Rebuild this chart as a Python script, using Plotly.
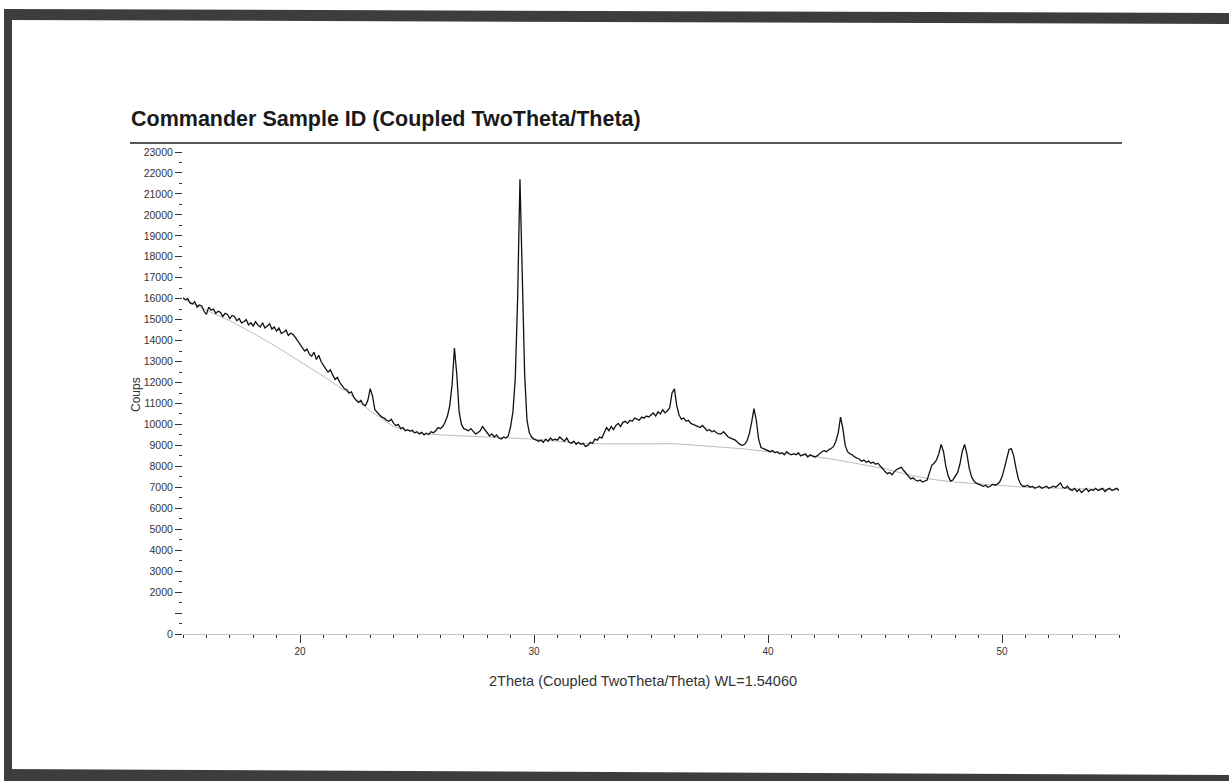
import plotly.graph_objects as go

# ---------------- data ----------------
two_theta_start = 15.0
two_theta_step = 0.1

counts = [
    16050, 15950, 16000, 15800, 15750, 15850, 15600, 15700, 15650, 15400,  # 15
    15250, 15600, 15450, 15500, 15300, 15400, 15350, 15150, 15300, 15250,  # 16
    15050, 15200, 15150, 14950, 15050, 14850, 14900, 15000, 14750, 14850,  # 17
    14700, 14900, 14750, 14650, 14850, 14600, 14700, 14800, 14550, 14650,  # 18
    14450, 14600, 14350, 14400, 14500, 14250, 14350, 14300, 14150, 14000,  # 19
    13800, 13650, 13500, 13600, 13350, 13250, 13450, 13100, 13300, 13000,  # 20
    12800, 12650, 12500, 12600, 12350, 12150, 12250, 12000, 11850, 11700,  # 21
    11650, 11500, 11550, 11300, 11150, 11050, 11150, 10950, 10900, 11150,  # 22
    11700, 11350, 10700, 10550, 10450, 10350, 10300, 10200, 10150, 10250,  # 23
    10050, 9950, 10000, 9800, 9850, 9700, 9750, 9680, 9720, 9600,          # 24
    9650, 9550, 9620, 9500, 9580, 9520, 9650, 9600, 9700, 9850,            # 25
    9800, 9900, 10100, 10400, 10900, 11900, 13650, 12400, 10600, 10000,    # 26
    9800, 9750, 9700, 9800, 9650, 9550, 9600, 9700, 9900, 9750,            # 27
    9600, 9450, 9550, 9400, 9500, 9350, 9300, 9400, 9350, 9450,            # 28
    9900, 10600, 12200, 16000, 21700, 17000, 12400, 10200, 9600, 9400,     # 29
    9300, 9250, 9200, 9250, 9150, 9300, 9200, 9350, 9250, 9300,            # 30
    9250, 9400, 9300, 9200, 9350, 9150, 9100, 9200, 9050, 9150,            # 31
    9050, 9100, 8950, 9000, 9150, 9100, 9300, 9250, 9400, 9350,            # 32
    9600, 9850, 9700, 9900, 9750, 9950, 10050, 9900, 10100, 10150,         # 33
    10050, 10200, 10150, 10300, 10250, 10200, 10350, 10300, 10400, 10350,  # 34
    10450, 10550, 10400, 10600, 10500, 10700, 10550, 10650, 10800, 11500,  # 35
    11700, 10900, 10450, 10250, 10300, 10150, 10200, 10050, 10000, 9950,   # 36
    9900, 9850, 9950, 9800, 9700, 9750, 9650, 9700, 9600, 9550,            # 37
    9550, 9650, 9500, 9400, 9350, 9300, 9250, 9150, 9050, 9000,            # 38
    9050, 9200, 9550, 10100, 10750, 10200, 9300, 8900, 8850, 8800,         # 39
    8750, 8700, 8750, 8650, 8700, 8600, 8650, 8550, 8700, 8600,            # 40
    8550, 8600, 8550, 8650, 8500, 8550, 8600, 8450, 8550, 8500,            # 41
    8450, 8500, 8600, 8700, 8750, 8700, 8800, 8850, 8950, 9200,            # 42
    9600, 10350, 9800, 9000, 8700, 8600, 8550, 8450, 8400, 8350,           # 43
    8250, 8300, 8200, 8250, 8150, 8200, 8100, 8150, 8000, 7900,            # 44
    7750, 7650, 7700, 7600, 7750, 7850, 7900, 7950, 7800, 7650,            # 45
    7500, 7400, 7450, 7350, 7300, 7350, 7250, 7300, 7350, 7700,            # 46
    8050, 8150, 8300, 8600, 9050, 8700, 8000, 7550, 7300, 7350,            # 47
    7500, 7700, 8100, 8700, 9050, 8600, 7900, 7500, 7300, 7200,            # 48
    7150, 7100, 7050, 7100, 7000, 7050, 7150, 7100, 7150, 7250,            # 49
    7500, 7900, 8400, 8800, 8850, 8500, 7900, 7400, 7150, 7050,            # 50
    7050, 7100, 7000, 7050, 6950, 7000, 7050, 6950, 7000, 7050,            # 51
    6950, 7000, 7050, 7000, 7100, 7200, 7000, 6950, 7050, 6900,            # 52
    6850, 6950, 6800, 6900, 6750, 6850, 6950, 6800, 6900, 6850,            # 53
    6950, 6850, 6900, 6950, 6800, 6900, 6950, 6850, 6900, 6950,            # 54
    6850,                                                                  # 55
]

background_theta = [15, 16, 17, 18, 19, 20, 21, 22, 23, 24, 25, 26, 27, 28, 29, 30,
                    31, 32, 33, 34, 35, 36, 37, 38, 39, 40, 41, 42, 43, 44, 45, 46,
                    47, 48, 49, 50, 51, 52, 53, 54, 55]
background_counts = [16000, 15450, 14950, 14350, 13700, 13000, 12300, 11550, 10650, 9900,
                     9580, 9500, 9450, 9400, 9350, 9300, 9200, 9100, 9070, 9080,
                     9100, 9080, 9000, 8920, 8830, 8700, 8600, 8470, 8300, 8100,
                     7880, 7600, 7380, 7250, 7180, 7080, 7000, 6970, 6940, 6910, 6880]

y_tick_vals = [0, 1000, 2000, 3000, 4000, 5000, 6000, 7000, 8000, 9000, 10000, 11000,
               12000, 13000, 14000, 15000, 16000, 17000, 18000, 19000, 20000, 21000,
               22000, 23000]
y_tick_text = ["0", "", "2000", "3000", "4000", "5000", "6000", "7000", "8000", "9000",
               "10000", "11000", "12000", "13000", "14000", "15000", "16000", "17000",
               "18000", "19000", "20000", "21000", "22000", "23000"]

x_tick_vals = [20, 30, 40, 50]
x_tick_text = ["20", "30", "40", "50"]

title_text = "Commander Sample ID (Coupled TwoTheta/Theta)"
x_title = "2Theta (Coupled TwoTheta/Theta) WL=1.54060"
y_title = "Coups"

two_theta = [round(two_theta_start + i * two_theta_step, 2) for i in range(len(counts))]

# ---------------- layout geometry ----------------
W, H = 1229, 781
L, R, T, B = 183, 110, 152, 147
PW, PH = W - L - R, H - T - B


def px(xp):
    return (xp - L) / PW


def py(yp):
    return (H - B - yp) / PH


FONT = "Liberation Sans, Arial, sans-serif"

fig = go.Figure()
fig.add_trace(go.Scatter(x=background_theta, y=background_counts, mode="lines",
                         line=dict(color="#bdbdbd", width=1), hoverinfo="skip",
                         showlegend=False))
fig.add_trace(go.Scatter(x=two_theta, y=counts, mode="lines",
                         line=dict(color="#111111", width=1.3), showlegend=False))

shapes = []
# underline below title
shapes.append(dict(type="line", xref="paper", yref="paper",
                   x0=px(130), x1=px(1122), y0=py(143), y1=py(143),
                   line=dict(color="#1e1e2a", width=1.5)))
# scanned page frame (dark bands)
band = "#3d3d3f"


def poly(points):
    s = "M " + " L ".join(f"{px(a):.5f},{py(b):.5f}" for a, b in points) + " Z"
    return dict(type="path", xref="paper", yref="paper", path=s,
                fillcolor=band, line=dict(width=0), layer="above")


shapes.append(poly([(4, 9), (1229, 13), (1229, 24), (4, 20)]))
shapes.append(poly([(4, 9), (12, 9), (12, 778), (4, 778)]))
shapes.append(poly([(4, 769), (1229, 775), (1229, 781), (4, 781)]))

annotations = [
    dict(text=title_text, xref="paper", yref="paper", x=px(129), y=py(119),
         xanchor="left", yanchor="middle", showarrow=False,
         font=dict(family=FONT, size=21.5, color="#1a1a1a", weight="bold")),
    dict(text=x_title, xref="paper", yref="paper", x=px(643), y=py(681),
         xanchor="center", yanchor="middle", showarrow=False,
         font=dict(family=FONT, size=14.5, color="#333333")),
    dict(text=y_title, xref="paper", yref="paper", x=px(136), y=py(395),
         xanchor="center", yanchor="middle", showarrow=False, textangle=-90,
         font=dict(family=FONT, size=12, color="#333333")),
]

fig.update_layout(
    width=W, height=H,
    margin=dict(l=L, r=R, t=T, b=B, pad=0),
    paper_bgcolor="white", plot_bgcolor="white",
    shapes=shapes, annotations=annotations,
    xaxis=dict(range=[15.0, 55.0], showgrid=False, zeroline=False,
               showline=True, linecolor="#c4c4c4", linewidth=1,
               tickmode="array", tickvals=x_tick_vals, ticktext=x_tick_text,
               ticks="outside", ticklen=8, tickwidth=1, tickcolor="#333333",
               tickfont=dict(family=FONT, size=10, color="#333333"),
               minor=dict(tickmode="linear", tick0=0, dtick=1, ticks="outside",
                          ticklen=3, tickwidth=1, tickcolor="#333333")),
    yaxis=dict(range=[0, 23000], showgrid=False, zeroline=False, showline=False,
               tickmode="array", tickvals=y_tick_vals, ticktext=y_tick_text,
               ticks="outside", ticklen=7, tickwidth=1, tickcolor="#333333",
               ticklabelstandoff=0,
               tickfont=dict(family=FONT, size=10.5, color="#333333"),
               minor=dict(tickmode="linear", tick0=0, dtick=500, ticks="outside",
                          ticklen=3, tickwidth=1, tickcolor="#333333")),
)

fig.write_html("out.html", config={"displayModeBar": False})
